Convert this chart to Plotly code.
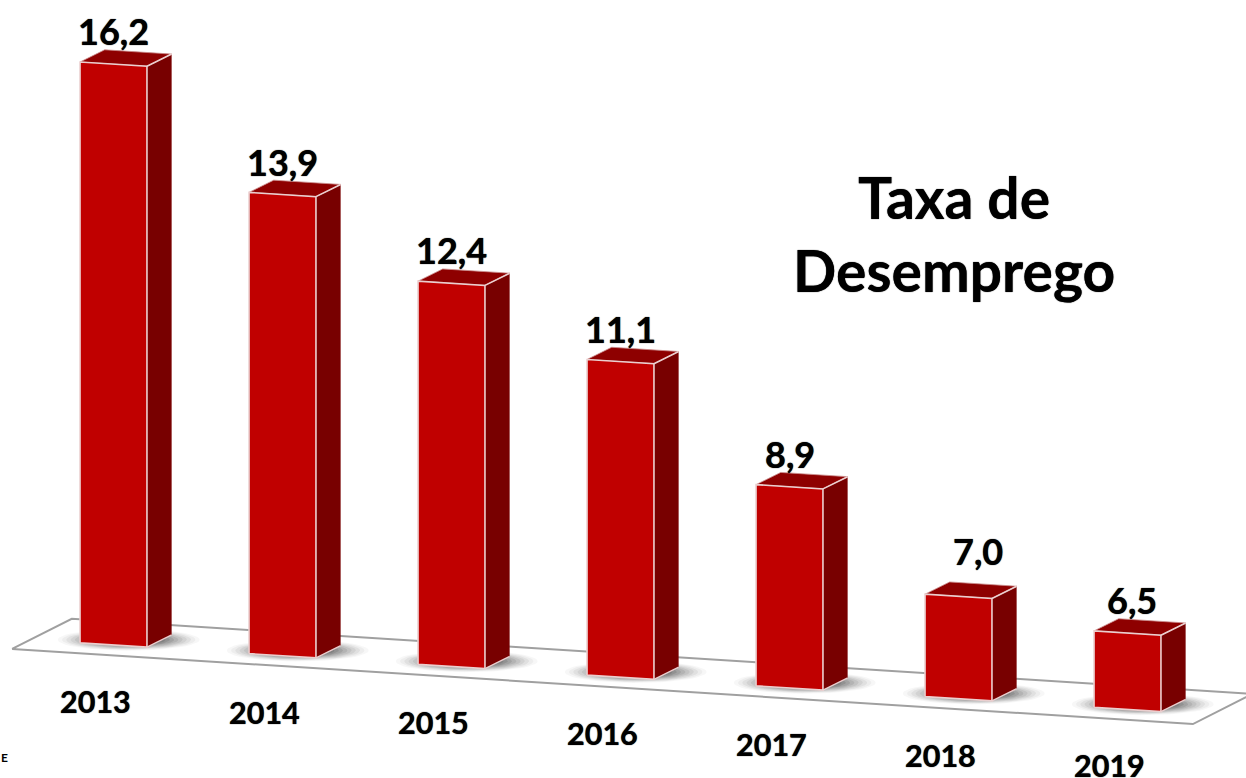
import numpy as np
import plotly.graph_objects as go

years = ["2013", "2014", "2015", "2016", "2017", "2018", "2019"]
values = [16.2, 13.9, 12.4, 11.1, 8.9, 7.0, 6.5]
title_lines = ["Taxa de", "Desemprego"]
source_mark = "E"

BASE = 5.03         # value at which the bars stand (truncated axis)
SHEAR = 0.2067      # downward tilt of the chart per category
BAR_W = 0.396
DX, DY = 0.146, 0.235   # depth of the pseudo-3D box
FONT = "Lato"
BLUR = "0 0 1px #000"

FRONT, SIDE, TOP = "#C00000", "#780000", "#8E0000"
EDGE = "#EBCFCF"


def pt(x, v):
    """Category position + value -> sheared axis coordinates."""
    return x, v - 0.03 - SHEAR * x


def poly(points):
    xs, ys = zip(*points)
    return list(xs) + [xs[0]], list(ys) + [ys[0]]


fig = go.Figure()


def add_poly(points, fill=None, line=None, width=0):
    x, y = poly(points)
    fig.add_trace(go.Scatter(
        x=x, y=y, mode="lines", hoverinfo="skip", showlegend=False,
        fill="toself" if fill else None, fillcolor=fill,
        line=dict(color=line or "rgba(0,0,0,0)", width=width),
    ))


# floor
fx0, fx1 = -0.60, 6.387
fv0, fdx, fdv = 4.8, 0.373, 0.60
a = pt(fx0, fv0 + 0.03)
b = pt(fx1, fv0 + 0.03)
floor = [a, b,
         (b[0] + fdx - 0.02, b[1] + fdv - 0.02),
         (a[0] + fdx - 0.02, a[1] + fdv - 0.02)]
add_poly(floor, fill="#FFFFFF", line="#A0A0A0", width=2)

# soft shadows on the floor: stacked translucent ellipses
t = np.linspace(0, 2 * np.pi, 48)
for scale, alpha in [(1.0, 0.03), (0.94, 0.04), (0.88, 0.05), (0.82, 0.06),
                     (0.76, 0.07), (0.70, 0.08), (0.64, 0.09), (0.58, 0.10), (0.52, 0.11)]:
    xs, ys = [], []
    for i in range(len(years)):
        cx, cy = pt(i + 0.09, BASE + 0.12)
        xs += list(cx + 0.42 * scale * np.cos(t)) + [None]
        ys += list(cy + 0.21 * scale * np.sin(t)) + [None]
    fig.add_trace(go.Scatter(x=xs, y=ys, mode="lines", fill="toself",
                             fillcolor=f"rgba(0,0,0,{alpha})",
                             line=dict(width=0), hoverinfo="skip", showlegend=False))

# boxes
for i, v in enumerate(values):
    l, r = i - BAR_W / 2, i + BAR_W / 2
    bl, br = pt(l, BASE), pt(r, BASE)
    tl, tr = pt(l, v), pt(r, v)
    back = lambda p: (p[0] + DX, p[1] + DY)
    add_poly([br, back(br), back(tr), tr], fill=SIDE)
    add_poly([tl, tr, back(tr), back(tl)], fill=TOP, line="#C98A8A", width=0.8)
    add_poly([bl, br, tr, tl], fill=FRONT, line=EDGE, width=1.6)
    ex, ey = zip(tr, back(tr))
    fig.add_trace(go.Scatter(x=ex, y=ey, mode="lines", hoverinfo="skip", showlegend=False,
                             line=dict(color=EDGE, width=1.6)))
    ex, ey = zip(br, back(br))
    fig.add_trace(go.Scatter(x=ex, y=ey, mode="lines", hoverinfo="skip", showlegend=False,
                             line=dict(color=EDGE, width=1.2)))

# value labels
for i, v in enumerate(values):
    x, y = pt(i, v)
    xs, ys = 0, 33
    if years[i] == "2018":
        xs, ys = 19, 45
    if years[i] == "2019":
        xs = 4
    fig.add_annotation(x=x, y=y, text=f"{v:.1f}".replace(".", ","), showarrow=False,
                       xshift=xs, yshift=ys, xanchor="center", yanchor="middle",
                       font=dict(family=FONT, size=36, color="#000000", weight=700, shadow=BLUR))

# category labels
for i, yr in enumerate(years):
    x, y = pt(i - 0.104, 3.935)
    fig.add_annotation(x=x, y=y, text=yr, showarrow=False,
                       xanchor="center", yanchor="middle",
                       font=dict(family=FONT, size=30.5, color="#000000", weight=700, shadow=BLUR))

# title
for line, py in zip(title_lines, [197, 270]):
    fig.add_annotation(xref="paper", yref="paper", x=954 / 1246, y=1 - py / 778,
                       text=line, showarrow=False, xanchor="center", yanchor="middle",
                       font=dict(family=FONT, size=57, color="#000000", weight=700, shadow=BLUR))

fig.add_annotation(xref="paper", yref="paper", x=5 / 1246, y=1 - 757 / 778, text=source_mark,
                   showarrow=False, xanchor="center", yanchor="middle",
                   font=dict(family=FONT, size=12, color="#000000", weight=700))

fig.update_layout(
    width=1246, height=778, margin=dict(l=0, r=0, t=0, b=0),
    paper_bgcolor="#FFFFFF", plot_bgcolor="#FFFFFF", showlegend=False,
    xaxis=dict(visible=False, range=[-113.5 / 169, (1246 - 113.5) / 169], fixedrange=True),
    yaxis=dict(visible=False, range=[5 - 133 / 52, 5 + 645 / 52], fixedrange=True),
)
fig.write_html("out.html", config=dict(displayModeBar=False),
               post_script="document.body.style.margin='0';")
